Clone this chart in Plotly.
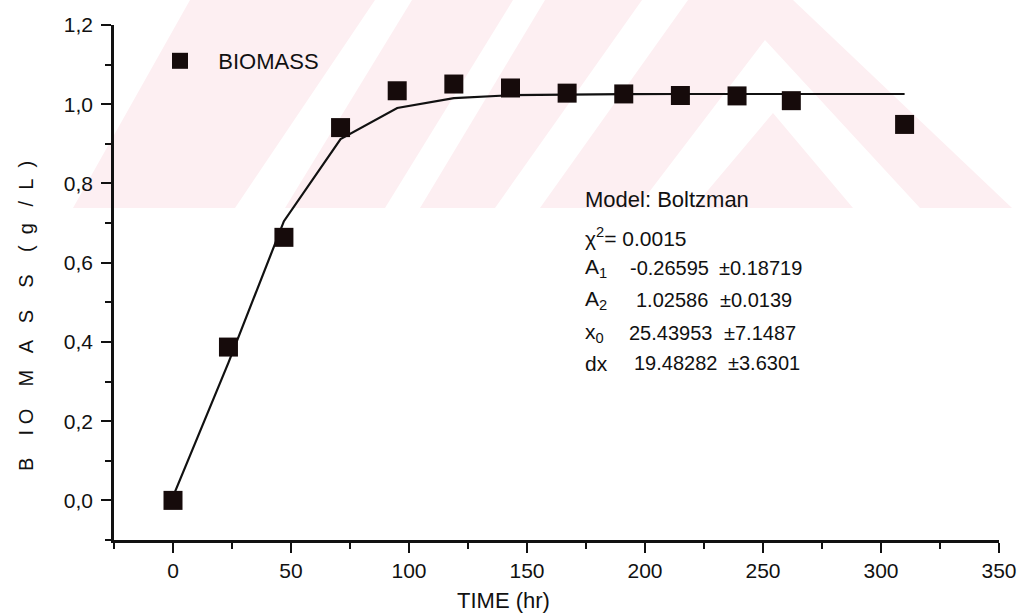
import numpy as np
import plotly.graph_objects as go

# Biomass growth data
time_hr = [0, 23.5, 47, 71, 95, 119, 143, 167, 191, 215, 239, 262, 310]
biomass_gL = [0.0, 0.387, 0.664, 0.941, 1.034, 1.051, 1.041, 1.028, 1.026, 1.022, 1.021, 1.009, 0.949]

# Boltzmann fit parameters (value, standard error)
A1, A1_err = -0.26595, 0.18719
A2, A2_err = 1.02586, 0.0139
x0, x0_err = 25.43953, 7.1487
dx, dx_err = 19.48282, 3.6301
chi2 = 0.0015

x_ticks = [0, 50, 100, 150, 200, 250, 300, 350]

t = np.array(time_hr, dtype=float)
fit_y = A2 + (A1 - A2) / (1.0 + np.exp((t - x0) / dx))

W, H = 1019, 613
L, R, T, B = 114, 20, 25, 73
PW, PH = W - L - R, H - T - B


def paper(px, py):
    """Pixel position on the page -> paper coordinates."""
    return (px - L) / PW, (H - B - py) / PH


def poly(points):
    pts = [paper(x, y) for x, y in points]
    return "M " + " L ".join(f"{a:.5f},{b:.5f}" for a, b in pts) + " Z"


FONT = "Liberation Sans, Arial, sans-serif"
INK = "#111111"
PINK = "#fdeff2"

fig = go.Figure()

fig.add_trace(go.Scatter(
    x=time_hr, y=fit_y, mode="lines",
    line=dict(color="#111111", width=2.2),
    showlegend=False, hoverinfo="skip",
))
fig.add_trace(go.Scatter(
    x=time_hr, y=biomass_gL, mode="markers", name="\u00a0\u00a0\u00a0BIOMASS",
    marker=dict(symbol="square", size=19, color="#160b0b"),
))

# faint background emblem (nested chevrons)
shapes = []
shapes.append(dict(type="path", xref="paper", yref="paper", layer="below",
                   path=poly([(73, 208), (190, 0), (793, 0), (1012, 208)]),
                   fillcolor=PINK, line=dict(width=0)))
for pts in [
    [(235, 208), (285, 208), (412, 0), (375, 0)],
    [(385, 208), (420, 208), (545, 0), (513, 0)],
    [(495, 208), (540, 208), (688, 0), (642, 0)],
    [(637, 208), (765, 40), (920, 208), (853, 208), (773, 113), (693, 208)],
]:
    shapes.append(dict(type="path", xref="paper", yref="paper", layer="below",
                       path=poly(pts), fillcolor="white", line=dict(width=0)))

annotations = []


def note(text, px, py, size=20, anchor="left", angle=0):
    ax, ay = paper(px, py)
    annotations.append(dict(
        text=text, x=ax, y=ay, xref="paper", yref="paper",
        xanchor=anchor, yanchor="middle", showarrow=False, textangle=angle,
        font=dict(family=FONT, size=size, color=INK),
    ))


note("TIME (hr)", 503, 600, size=22, anchor="center")
nb = "\u00a0"
ytitle = ("B" + nb * 4 + "I" + nb + "O" + nb * 4 + "M" + nb * 3 + "A" + nb * 3 +
          "S" + nb * 4 + "S" + nb * 4 + "(" + nb * 2 + "g" + nb * 3 + "/" + nb * 2 +
          "L" + nb * 2 + ")")
note(ytitle, 26, 316, size=20, anchor="center", angle=-90)

note("Model: Boltzman", 583, 199, size=22)
note(f"\u03c7<sup>2</sup>= {chi2:.4f}", 583, 237, size=21)
rows = [
    ("A<sub>1</sub>", f"{A1:.5f}", f"\u00b1{A1_err:.5f}", 268, 628, 717),
    ("A<sub>2</sub>", f"{A2:.5f}", f"\u00b1{A2_err:.4f}", 300, 634, 718),
    ("x<sub>0</sub>", f"{x0:.5f}", f"\u00b1{x0_err:.4f}", 333, 627, 722),
    ("dx", f"{dx:.5f}", f"\u00b1{dx_err:.4f}", 363, 632, 726),
]
for lab, val, err, py, vx, ex in rows:
    note(lab, 583, py, size=21)
    note(val, vx, py)
    note(err, ex, py)

axis_common = dict(
    showgrid=False, zeroline=False, showline=True, linecolor=INK, linewidth=2.5,
    ticks="outside", ticklen=10, tickwidth=2, tickcolor=INK, automargin=False,
    tickfont=dict(family=FONT, size=21, color=INK),
)

fig.update_layout(
    width=W, height=H,
    margin=dict(l=L, r=R, t=T, b=B, autoexpand=False),
    paper_bgcolor="white", plot_bgcolor="rgba(0,0,0,0)",
    separators=",.",
    shapes=shapes, annotations=annotations,
    showlegend=True,
    legend=dict(x=paper(160, 61)[0], y=paper(160, 61)[1], xanchor="left", yanchor="middle",
                bgcolor="rgba(0,0,0,0)", font=dict(family=FONT, size=22, color=INK),
                itemsizing="trace"),
    xaxis=dict(range=[-25, 350], tickvals=x_ticks,
               minor=dict(dtick=25, ticks="outside", ticklen=6, tickwidth=2, tickcolor=INK),
               **axis_common),
    yaxis=dict(range=[-0.1, 1.2], tick0=0, dtick=0.2, tickformat=".1f",
               ticklabelstandoff=4,
               minor=dict(dtick=0.1, ticks="outside", ticklen=6, tickwidth=2, tickcolor=INK),
               **axis_common),
)

fig.write_html("out.html")
